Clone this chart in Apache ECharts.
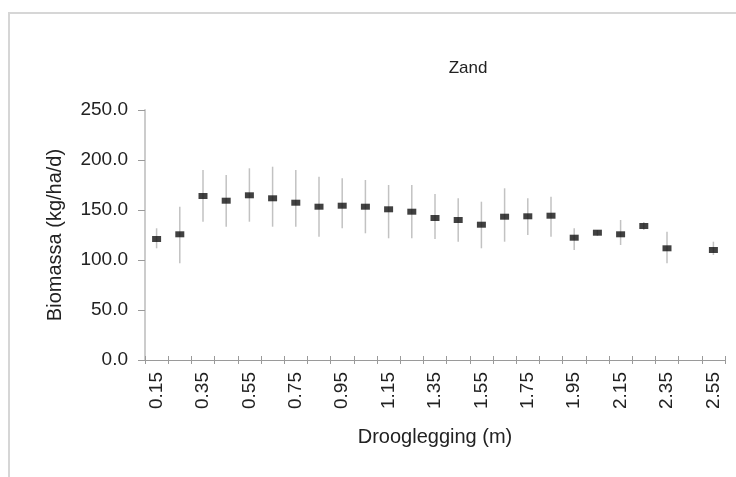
<!DOCTYPE html>
<html>
<head>
<meta charset="utf-8">
<script src="https://cdn.jsdelivr.net/npm/echarts@6/dist/echarts.min.js"></script>
<style>
  html, body { margin: 0; padding: 0; background: #fff; }
  #chart { width: 736px; height: 477px; }
</style>
</head>
<body>
<div id="chart"></div>
<script>
// Drooglegging classes (m)
const categories = ['0.15','0.25','0.35','0.45','0.55','0.65','0.75','0.85','0.95','1.05',
  '1.15','1.25','1.35','1.45','1.55','1.65','1.75','1.85','1.95','2.05',
  '2.15','2.25','2.35','2.45','2.55'];
// Mean biomass (kg/ha/d); no observation for 2.45
const means = [121, 125.7, 164, 159.3, 164.7, 161.7, 157.3, 153.3, 154.3, 153.3,
  150.7, 148.3, 142, 140, 135.3, 143.3, 143.7, 144.3, 122.3, 127.3,
  125.7, 134, 111.7, null, 110];
// Spread around the mean
const upper = [131.7, 153.3, 190, 185, 191.7, 193.3, 190, 183.3, 181.7, 180,
  175, 175, 166, 161.7, 158.3, 171.7, 161.7, 163.3, 131.7, 130,
  140, 138, 128.3, null, 118.3];
const lower = [111.7, 96.7, 138.3, 133.3, 138.3, 133.3, 133.3, 123.3, 131.7, 126.7,
  121.7, 121.7, 121, 118.3, 111.7, 118.3, 125, 123.3, 110, 124,
  115, 130, 96.7, null, 105];
const yTicks = [0, 50, 100, 150, 200, 250];

const FONT = 'Liberation Sans, Arial, sans-serif';
const chart = echarts.init(document.getElementById('chart'), null, { renderer: 'canvas' });

const rangeData = categories.map((c, i) => [i, lower[i], upper[i]]).filter(d => d[1] != null);

chart.setOption({
  animation: false,
  backgroundColor: '#fff',
  graphic: [{
    type: 'rect',
    shape: { x: 9, y: 13, width: 800, height: 520 },
    style: { fill: 'none', stroke: '#d6d6d6', lineWidth: 2 },
    silent: true
  }],
  title: {
    text: 'Zand',
    left: 463,
    top: 55,
    textAlign: 'center',
    textStyle: { fontFamily: FONT, fontSize: 17, fontWeight: 'normal', color: '#222' }
  },
  grid: { left: 145, right: 11, top: 110, bottom: 117, containLabel: false },
  xAxis: [{
    type: 'category',
    data: categories,
    boundaryGap: true,
    position: 'bottom',
    name: 'Drooglegging (m)',
    nameLocation: 'middle',
    nameGap: 67,
    nameTextStyle: { fontFamily: FONT, fontSize: 20, color: '#222' },
    axisLine: { lineStyle: { color: '#9a9a9a', width: 1 } },
    axisTick: { show: true, length: 4, alignWithLabel: false, interval: 0, lineStyle: { color: '#9a9a9a' } },
    axisLabel: {
      rotate: 90, interval: 1, margin: 12,
      fontFamily: FONT, fontSize: 19, color: '#222'
    },
    splitLine: { show: false }
  }, {
    // second copy of the category axis only draws the upward half of each tick
    type: 'category',
    data: categories,
    boundaryGap: true,
    position: 'bottom',
    offset: 0,
    axisLine: { show: false },
    axisTick: { show: true, inside: true, length: 4, interval: 0, lineStyle: { color: '#9a9a9a' } },
    axisLabel: { show: false },
    splitLine: { show: false }
  }],
  yAxis: {
    type: 'value',
    min: yTicks[0],
    max: yTicks[yTicks.length - 1],
    interval: 50,
    name: 'Biomassa (kg/ha/d)',
    nameLocation: 'middle',
    nameGap: 80,
    nameRotate: 90,
    nameTextStyle: { fontFamily: FONT, fontSize: 20, color: '#222' },
    axisLine: { show: true, lineStyle: { color: '#cccccc', width: 2 } },
    axisTick: { show: true, length: 7, lineStyle: { color: '#9a9a9a' } },
    axisLabel: {
      margin: 17, fontFamily: FONT, fontSize: 19, color: '#222',
      formatter: v => v.toFixed(1)
    },
    splitLine: { show: false }
  },
  series: [{
    type: 'custom',
    xAxisIndex: 0,
    data: rangeData,
    renderItem: (params, api) => {
      const top = api.coord([api.value(0), api.value(2)]);
      const bot = api.coord([api.value(0), api.value(1)]);
      return {
        type: 'line',
        shape: { x1: top[0], y1: top[1], x2: bot[0], y2: bot[1] },
        style: { stroke: '#c2c2c2', lineWidth: 1.5 }
      };
    },
    encode: { x: 0, y: [1, 2] },
    z: 1
  }, {
    type: 'scatter',
    xAxisIndex: 0,
    data: means,
    symbol: 'rect',
    symbolSize: [9, 6],
    itemStyle: { color: '#111' },
    z: 3
  }]
});
</script>
</body>
</html>
